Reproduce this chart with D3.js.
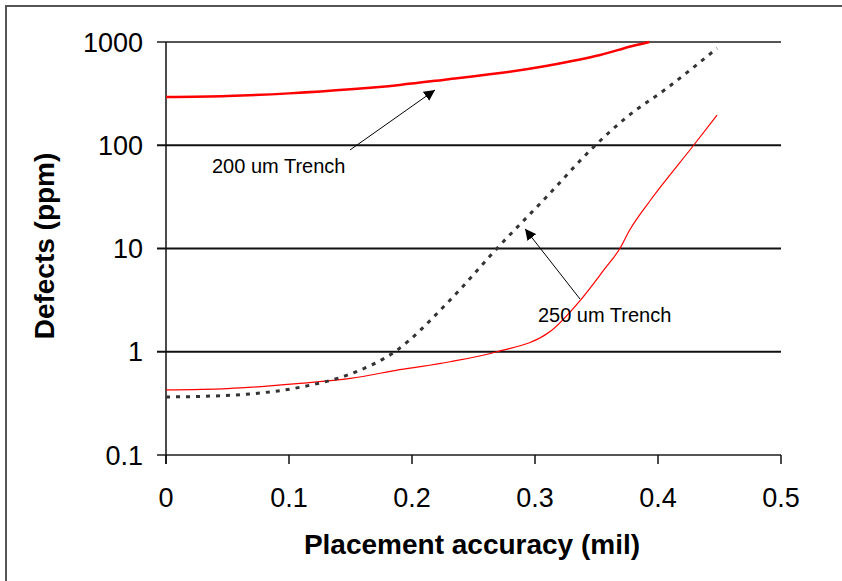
<!DOCTYPE html>
<html>
<head>
<meta charset="utf-8">
<script src="https://cdn.jsdelivr.net/npm/d3@7"></script>
<style>
  body { margin: 0; background: #fff; }
  svg { display: block; font-family: Arial, "Liberation Sans", sans-serif; }
</style>
</head>
<body>
<div id="chart"></div>
<script>
(function(d3) {
'use strict';

// thick red curve (200 um trench)
var x200 = [0, 0.05, 0.1, 0.15, 0.19, 0.23, 0.27, 0.31, 0.353, 0.38, 0.393];
var y200 = [293, 300, 318, 348, 384, 436, 497, 590, 748, 920, 1000];

// dotted curve (250 um trench)
var x250 = [0, 0.03, 0.068, 0.109, 0.15, 0.186, 0.231, 0.269, 0.307, 0.348, 0.375, 0.407, 0.448];
var y250 = [0.365, 0.37, 0.39, 0.453, 0.61, 1.0, 3.17, 10, 29.5, 97, 189, 355, 870];

// thin red curve
var xThin = [0, 0.05, 0.109, 0.15, 0.19, 0.231, 0.269, 0.312, 0.337, 0.356, 0.369, 0.377, 0.394, 0.429, 0.448];
var yThin = [0.427, 0.44, 0.494, 0.553, 0.67, 0.80, 1.0, 1.56, 3.17, 6.2, 10, 15.1, 29.5, 100, 196];

var xTicks = [0, 0.1, 0.2, 0.3, 0.4, 0.5];
var yTicks = [0.1, 1, 10, 100, 1000];

var notes = [
  { label: '200 um Trench', tx: 0.0374, ty: 53.8, x1: 0.1496, y1: 90, x2: 0.2187, y2: 343 },
  { label: '250 um Trench', tx: 0.3024, ty: 1.94, x1: 0.3366, y1: 3.24, x2: 0.2919, y2: 15.5 }
];

var width = 842, height = 581;
var margin = { left: 166, right: 61, top: 42, bottom: 126 };

var svg = d3.select('#chart')
  .append('svg')
  .attr('width', width)
  .attr('height', height);

// outer frame (only top and left visible)
svg.append('path')
  .attr('d', 'M6,' + height + 'V6H' + width)
  .attr('fill', 'none')
  .attr('stroke', '#555')
  .attr('stroke-width', 2);

var x = d3.scaleLinear()
  .domain([0, 0.5])
  .range([margin.left, width - margin.right]);

var y = d3.scaleLog()
  .domain([0.1, 1000])
  .range([height - margin.bottom, margin.top]);

// gridlines
svg.append('g')
  .selectAll('line')
  .data(yTicks)
  .enter()
  .append('line')
  .attr('x1', x(0) - 9)
  .attr('x2', x(0.5))
  .attr('y1', function(d) { return y(d); })
  .attr('y2', function(d) { return y(d); })
  .attr('stroke', function(d) { return d === 0.1 || d === 1000 ? '#555' : '#111'; })
  .attr('stroke-width', 2);

// x ticks
svg.append('g')
  .selectAll('line')
  .data(xTicks)
  .enter()
  .append('line')
  .attr('x1', function(d) { return x(d); })
  .attr('x2', function(d) { return x(d); })
  .attr('y1', y(0.1))
  .attr('y2', y(0.1) + 9)
  .attr('stroke', '#111')
  .attr('stroke-width', 1.5);

// y axis line
svg.append('line')
  .attr('x1', x(0)).attr('x2', x(0))
  .attr('y1', y(1000)).attr('y2', y(0.1) + 9)
  .attr('stroke', '#111')
  .attr('stroke-width', 1.5);

svg.append('g')
  .selectAll('text')
  .data(xTicks)
  .enter()
  .append('text')
  .attr('x', function(d) { return x(d); })
  .attr('y', y(0.1) + 52)
  .attr('text-anchor', 'middle')
  .attr('font-size', 27)
  .text(function(d) { return d; });

svg.append('g')
  .selectAll('text')
  .data(yTicks)
  .enter()
  .append('text')
  .attr('x', x(0) - 23)
  .attr('y', function(d) { return y(d); })
  .attr('dy', '0.36em')
  .attr('text-anchor', 'end')
  .attr('font-size', 27)
  .text(function(d) { return d; });

svg.append('text')
  .attr('x', 472)
  .attr('y', 554)
  .attr('text-anchor', 'middle')
  .attr('font-size', 28)
  .attr('font-weight', 'bold')
  .text('Placement accuracy (mil)');

svg.append('text')
  .attr('transform', 'translate(54,246) rotate(-90)')
  .attr('text-anchor', 'middle')
  .attr('font-size', 28)
  .attr('font-weight', 'bold')
  .text('Defects (ppm)');

var line = d3.line()
  .x(function(d) { return x(d[0]); })
  .y(function(d) { return y(d[1]); })
  .curve(d3.curveMonotoneX);

svg.append('path')
  .datum(d3.zip(xThin, yThin))
  .attr('d', line)
  .attr('fill', 'none')
  .attr('stroke', '#ff0000')
  .attr('stroke-width', 1.2);

svg.append('path')
  .datum(d3.zip(x250, y250))
  .attr('d', line)
  .attr('fill', 'none')
  .attr('stroke', '#333')
  .attr('stroke-width', 3)
  .attr('stroke-dasharray', '4,6');

svg.append('path')
  .datum(d3.zip(x200, y200))
  .attr('d', line)
  .attr('fill', 'none')
  .attr('stroke', '#ff0000')
  .attr('stroke-width', 2.5);

// annotations
svg.append('defs').append('marker')
  .attr('id', 'arrow')
  .attr('viewBox', '0 0 10 10')
  .attr('refX', 10).attr('refY', 5)
  .attr('markerWidth', 11).attr('markerHeight', 11)
  .attr('markerUnits', 'userSpaceOnUse')
  .attr('orient', 'auto')
  .append('path')
  .attr('d', 'M0,0L10,5L0,10z')
  .attr('fill', '#000');

var note = svg.append('g')
  .selectAll('g')
  .data(notes)
  .enter()
  .append('g');

note.append('line')
  .attr('x1', function(d) { return x(d.x1); })
  .attr('y1', function(d) { return y(d.y1); })
  .attr('x2', function(d) { return x(d.x2); })
  .attr('y2', function(d) { return y(d.y2); })
  .attr('stroke', '#000')
  .attr('stroke-width', 1)
  .attr('marker-end', 'url(#arrow)');

note.append('text')
  .attr('x', function(d) { return x(d.tx); })
  .attr('y', function(d) { return y(d.ty); })
  .attr('font-size', 20)
  .text(function(d) { return d.label; });

})(window.d3);
</script>
</body>
</html>
